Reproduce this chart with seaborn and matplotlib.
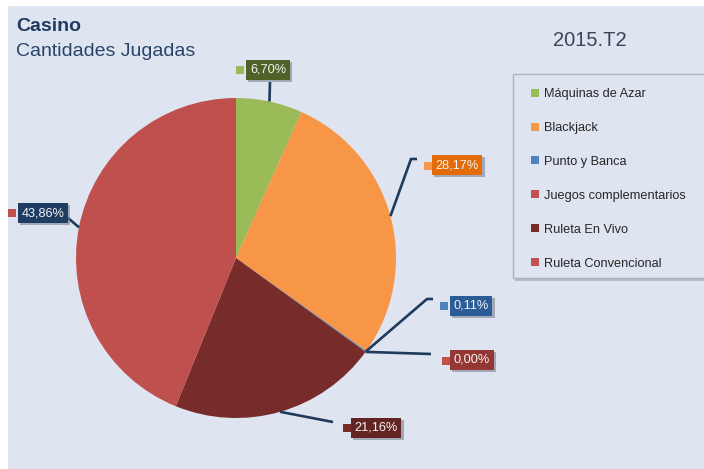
import matplotlib
matplotlib.use('Agg')
import matplotlib.pyplot as plt
import seaborn as sns
import numpy as np
from matplotlib.patches import Rectangle
from matplotlib.lines import Line2D
import matplotlib.patheffects as pe

# ---------------- data ----------------
categories = ['Máquinas de Azar', 'Blackjack', 'Punto y Banca',
              'Juegos complementarios', 'Ruleta En Vivo', 'Ruleta Convencional']
values = [6.70, 28.17, 0.11, 0.00, 21.16, 43.86]
value_labels = ['6,70%', '28,17%', '0,11%', '0,00%', '21,16%', '43,86%']
slice_colors = ['#9bbb59', '#f79646', '#4f81bd', '#c0504d', '#772c2a', '#c0504d']
box_colors = ['#4f6228', '#e36c09', '#2c5c97', '#953735', '#632523', '#1f3d63']
title = 'Casino'
subtitle = 'Cantidades Jugadas'
period = '2015.T2'

# ---------------- style ----------------
sns.set_style('white')
plt.rcParams['font.family'] = ['Liberation Sans', 'DejaVu Sans']
NARROW = ['Liberation Sans Narrow', 'Liberation Sans', 'DejaVu Sans']

W, H = 704, 469
BG = '#dee4f0'
NAVY = '#1f3a5c'

fig = plt.figure(figsize=(W / 100, H / 100), dpi=100, facecolor='white')

# background layer (pixel coordinates)
bg = fig.add_axes([0, 0, 1, 1], zorder=0)
bg.set_xlim(0, W); bg.set_ylim(H, 0); bg.axis('off')
bg.add_patch(Rectangle((8, 6), W - 8, H - 6, facecolor=BG, edgecolor='none'))
# legend frame with shadow (extends past the right edge)
bg.add_patch(Rectangle((515, 77), 220, 204, facecolor='#98a1b1', edgecolor='none', alpha=0.6))
bg.add_patch(Rectangle((513, 74), 220, 204, facecolor=BG, edgecolor='#aab3c3', linewidth=1))

# pie layer
CX, CY, R = 236, 258, 160
pax = fig.add_axes([(CX - R) / W, (H - CY - R) / H, 2 * R / W, 2 * R / H], zorder=1)
pax.patch.set_alpha(0)
wedges, _ = pax.pie(values, colors=slice_colors, startangle=90, counterclock=False,
                    radius=1, wedgeprops=dict(linewidth=0))
pax.set_xlim(-1, 1); pax.set_ylim(-1, 1); pax.set_aspect('equal'); pax.axis('off')

# leader line end points (pixel layout)
leader_paths = [
    [(270, 82)],
    [(411, 159), (417, 159)],
    [(427, 299), (433, 299)],
    [(431, 354)],
    [(333, 422)],
    [(68, 218)],
]

def to_pie(p):
    return ((p[0] - CX) / R, (CY - p[1]) / R)

for w, path in zip(wedges, leader_paths):
    a = np.deg2rad((w.theta1 + w.theta2) / 2)
    pts = [(np.cos(a), np.sin(a))] + [to_pie(p) for p in path]
    xs, ys = zip(*pts)
    pax.plot(xs, ys, color=NAVY, lw=1.9, clip_on=False, solid_capstyle='butt', zorder=5)

# overlay layer
ov = fig.add_axes([0, 0, 1, 1], zorder=2)
ov.set_xlim(0, W); ov.set_ylim(H, 0); ov.axis('off'); ov.patch.set_alpha(0)

box_centers = [(268, 70), (457, 165), (471, 306), (472, 360), (376, 428), (43, 213)]
marker_pos = [(240, 70), (428, 166), (444, 306), (446, 361), (347, 428), (12, 213)]

mx, my = zip(*marker_pos)
ov.scatter(mx, my, marker='s', s=26, c=slice_colors, linewidths=0, zorder=3)

for (bx, by), txt, bc in zip(box_centers, value_labels, box_colors):
    t = ov.text(bx, by, txt, ha='center', va='center', color='#f4f4f4',
                fontsize=9.2, family=NARROW, zorder=4,
                bbox=dict(boxstyle='square,pad=0.3', fc=bc, ec='none'))
    t.get_bbox_patch().set_path_effects([
        pe.SimplePatchShadow(offset=(1.5, -1.5), shadow_rgbFace='#6f7789', alpha=0.55),
        pe.Normal()])

ov.text(16, 31, title, fontsize=14, fontweight='bold', color='#1f3a5f', va='baseline', ha='left')
ov.text(16, 56, subtitle, fontsize=14, color='#2a4468', va='baseline', ha='left')
ov.text(553, 46, period, fontsize=14.5, color='#3a4458', va='baseline', ha='left')

# legend
handles = [Line2D([], [], marker='s', linestyle='none', markersize=5.5,
                  markerfacecolor=c, markeredgewidth=0) for c in slice_colors]
fig.legend(handles, categories, loc='upper left',
           bbox_to_anchor=(529 / W, 1 - 88 / H), frameon=False,
           borderpad=0, borderaxespad=0, handlelength=1.0, handletextpad=0.2,
           labelspacing=1.72, prop=dict(family=NARROW, size=9.2),
           labelcolor='#262626')

fig.savefig('out.png', dpi=100, facecolor='white')
